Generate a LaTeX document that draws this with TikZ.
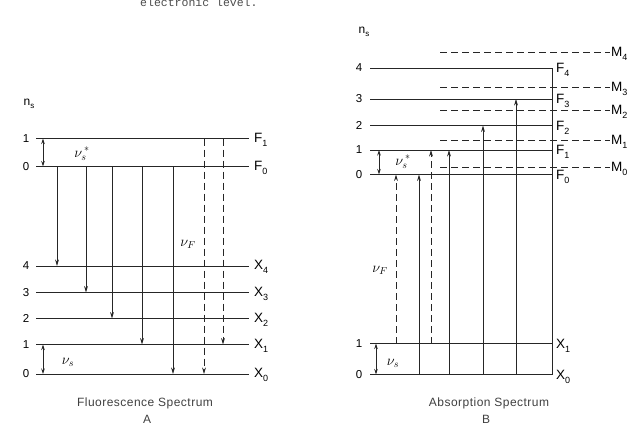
\documentclass[tikz,border=0pt]{standalone}
\usepackage{fontspec}
\setsansfont{Liberation Sans}
\setmonofont{Liberation Mono}
\newfontfamily\capfont[LetterSpace=4]{Liberation Sans}
\usetikzlibrary{arrows.meta}
\newcommand\lsub[2]{#1\raisebox{-4pt}{\fontsize{9}{10}\selectfont #2}}
\begin{document}
\begin{tikzpicture}[x=1pt,y=-1pt,
  lvl/.style={line width=0.8pt, draw=black!85},
  mlvl/.style={line width=0.8pt, draw=black!85, dash pattern=on 7pt off 4pt},
  tr/.style={line width=0.7pt, draw=black!85, -{Stealth[length=6.5pt,width=3.8pt]}},
  trd/.style={tr, dash pattern=on 7pt off 4pt},
  dbl/.style={line width=0.7pt, draw=black!85, {Stealth[length=5.5pt,width=3.5pt]}-{Stealth[length=5.5pt,width=3.5pt]}},
  num/.style={font=\sffamily\fontsize{11.5}{13}\selectfont, inner sep=0pt},
  lab/.style={font=\sffamily\fontsize{13.5}{15}\selectfont, inner sep=0pt, anchor=west},
  nu/.style={font=\Large, inner sep=0pt},
  ns/.style={font=\sffamily\fontsize{12}{14}\selectfont, inner sep=0pt},
  captxt/.style={font=\capfont\fontsize{12}{14}\selectfont, inner sep=0pt, text=black!75}]
\useasboundingbox (0,0) rectangle (636,431);

% top text (cut off as in the reference)
\node[anchor=base west, font=\ttfamily\fontsize{11.5}{12}\selectfont, inner sep=0pt, text=black!70] (toptxt) at (140,6) {electronic level.};

% ================= A: Fluorescence =================
\node[ns] (nsA) at (29,104) {n\raisebox{-2.5pt}{\fontsize{8}{9}\selectfont s}};
\foreach \y/\n/\l/\s in {138.5/1/F/1, 166.5/0/F/0, 266/4/X/4, 292.5/3/X/3, 318.5/2/X/2, 344.5/1/X/1, 374/0/X/0}{
  \draw[lvl] (36,\y) -- (249,\y);
  \node[num] (nA\l\s) at (26,\y) {\n};
  \node[lab] (lA\l\s) at (254,\y+1) {\lsub{\l}{\s}};
}
\draw[tr] (57,166.5) -- (57,266);
\draw[tr] (86,166.5) -- (86,292.5);
\draw[tr] (112,166.5) -- (112,318.5);
\draw[tr] (142,166.5) -- (142,344.5);
\draw[tr] (173,166.5) -- (173,374);
\draw[trd] (204,138.5) -- (204,374);
\draw[trd] (223,138.5) -- (223,344.5);
\draw[dbl] (43,166.5) -- (43,138.5);
\draw[dbl] (43,374) -- (43,344.5);
\node[nu] (nusA) at (82,154) {$\nu_s^{\,*}$};
\node[nu] (nuA) at (68,362) {$\nu_s$};
\node[nu] (nuFA) at (188,244) {$\nu_F$};
\node[captxt] (capA) at (145,403) {Fluorescence Spectrum};
\node[captxt] (capA2) at (147,419) {A};

% ================= B: Absorption =================
\node[ns] (nsB) at (364,32) {n\raisebox{-2.5pt}{\fontsize{8}{9}\selectfont s}};
\foreach \y/\n/\l/\s in {68/4/F/4, 99/3/F/3, 125.5/2/F/2, 150/1/F/1, 174.5/0/F/0, 343.5/1/X/1, 374.5/0/X/0}{
  \draw[lvl] (370,\y) -- (552,\y);
  \node[num] (nB\l\s) at (359,\y) {\n};
  \node[lab] (lB\l\s) at (556,\y+2) {\lsub{\l}{\s}};
}
\draw[lvl] (552,68) -- (552,374.5);
\foreach \y/\s in {52/4, 87/3, 110/2, 140/1, 167/0}{
  \draw[mlvl] (440,\y) -- (610,\y);
  \node[lab] (lBM\s) at (611,\y+2) {\lsub{M}{\s}};
}
\draw[dbl] (379,174.5) -- (379,150);
\draw[trd] (396,343.5) -- (396,174.5);
\draw[tr] (419,374.5) -- (419,174.5);
\draw[trd] (431,343.5) -- (431,150);
\draw[tr] (449,374.5) -- (449,150);
\draw[tr] (483,374.5) -- (483,125.5);
\draw[tr] (516,374.5) -- (516,99);
\draw[dbl] (376,374.5) -- (376,343.5);
\node[nu] (nusB) at (403,162) {$\nu_s^{\,*}$};
\node[nu] (nuB) at (393,363) {$\nu_s$};
\node[nu] (nuFB) at (380,270) {$\nu_F$};
\node[captxt] (capB) at (489,403) {Absorption Spectrum};
\node[captxt] (capB2) at (486,419) {B};
\end{tikzpicture}
\end{document}
